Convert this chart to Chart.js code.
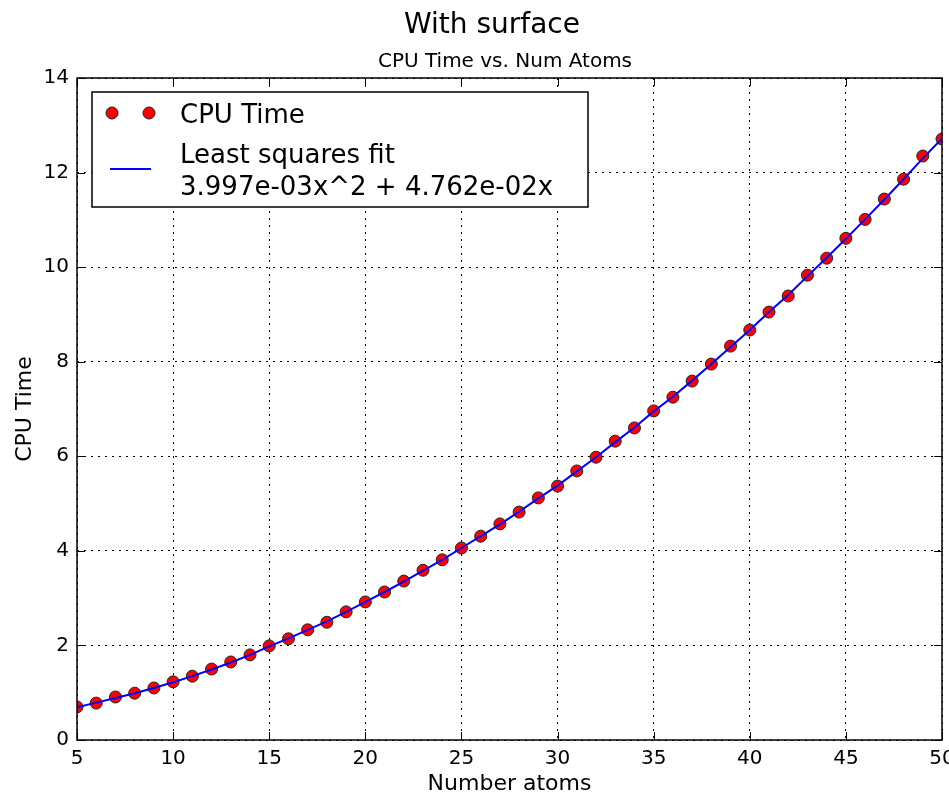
<!DOCTYPE html>
<html lang="en">
<head>
    <meta charset="UTF-8">
    <title>CPU Time vs. Num Atoms</title>
    <script src="https://cdn.jsdelivr.net/npm/chart.js"></script>
    <style>
        html, body { margin: 0; padding: 0; background: #fff; }
        #wrap { width: 949px; height: 797px; }
    </style>
</head>
<body>
    <div id="wrap"><canvas id="cpuChart" width="949" height="797"></canvas></div>

    <script>
        // data
        const atoms = [5, 6, 7, 8, 9, 10, 11, 12, 13, 14, 15, 16, 17, 18, 19, 20, 21, 22, 23, 24, 25, 26, 27,
                       28, 29, 30, 31, 32, 33, 34, 35, 36, 37, 38, 39, 40, 41, 42, 43, 44, 45, 46, 47, 48, 49, 50];
        const cpuTime = [0.70, 0.78, 0.91, 0.99, 1.10, 1.23, 1.35, 1.50, 1.65, 1.80, 1.99, 2.14, 2.33, 2.49,
                         2.71, 2.92, 3.13, 3.36, 3.59, 3.81, 4.06, 4.31, 4.57, 4.82, 5.12, 5.37, 5.69, 5.98,
                         6.32, 6.60, 6.96, 7.25, 7.59, 7.95, 8.33, 8.67, 9.05, 9.39, 9.83, 10.19, 10.61,
                         11.01, 11.44, 11.86, 12.35, 12.71];
        const fitTime = [0.69, 0.79, 0.89, 0.99, 1.10, 1.22, 1.35, 1.49, 1.64, 1.80, 1.98, 2.15, 2.33, 2.51,
                         2.71, 2.92, 3.13, 3.35, 3.58, 3.81, 4.06, 4.31, 4.56, 4.83, 5.11, 5.38, 5.68, 5.98,
                         6.30, 6.61, 6.95, 7.26, 7.60, 7.95, 8.31, 8.67, 9.05, 9.41, 9.81, 10.20, 10.60,
                         11.01, 11.43, 11.86, 12.30, 12.72];
        const xTicks = [5, 10, 15, 20, 25, 30, 35, 40, 45, 50];
        const yTicks = [0, 2, 4, 6, 8, 10, 12, 14];
        const legendLabels = ['CPU Time', 'Least squares fit', '3.997e-03x^2 + 4.762e-02x'];

        const FONT = "'DejaVu Sans', sans-serif";

        // titles, box, inward ticks and legend the way matplotlib draws them
        const mplDecor = {
            id: 'mplDecor',
            afterDraw(chart) {
                const ctx = chart.ctx;
                const area = chart.chartArea;
                const xs = chart.scales.x, ys = chart.scales.y;
                ctx.save();

                ctx.fillStyle = '#000';
                ctx.textAlign = 'center';
                ctx.textBaseline = 'alphabetic';
                ctx.font = '28px ' + FONT;
                ctx.fillText('With surface', 492, 33);
                ctx.font = '20px ' + FONT;
                ctx.fillText('CPU Time vs. Num Atoms', 505, 67);

                // inward tick marks
                ctx.strokeStyle = '#000';
                ctx.lineWidth = 1;
                const tl = 8;
                ctx.beginPath();
                xTicks.forEach(v => {
                    const px = Math.round(xs.getPixelForValue(v)) + 0.5;
                    ctx.moveTo(px, area.bottom); ctx.lineTo(px, area.bottom - tl);
                    ctx.moveTo(px, area.top); ctx.lineTo(px, area.top + tl);
                });
                yTicks.forEach(v => {
                    const py = Math.round(ys.getPixelForValue(v)) + 0.5;
                    ctx.moveTo(area.left, py); ctx.lineTo(area.left + tl, py);
                    ctx.moveTo(area.right, py); ctx.lineTo(area.right - tl, py);
                });
                ctx.stroke();

                // frame
                ctx.lineWidth = 1.5;
                ctx.strokeRect(area.left, area.top, area.right - area.left, area.bottom - area.top);

                // legend
                ctx.fillStyle = '#fff';
                ctx.fillRect(92, 92, 496, 115);
                ctx.lineWidth = 1.5;
                ctx.strokeStyle = '#000';
                ctx.strokeRect(92, 92, 496, 115);

                [112, 149].forEach(cx => {
                    ctx.beginPath();
                    ctx.arc(cx, 113, 6, 0, Math.PI * 2);
                    ctx.fillStyle = '#ff0000';
                    ctx.fill();
                    ctx.lineWidth = 1;
                    ctx.strokeStyle = '#222';
                    ctx.stroke();
                });
                ctx.beginPath();
                ctx.moveTo(110, 169);
                ctx.lineTo(151, 169);
                ctx.strokeStyle = '#0000ff';
                ctx.lineWidth = 2;
                ctx.stroke();

                ctx.fillStyle = '#000';
                ctx.textAlign = 'left';
                ctx.font = '26px ' + FONT;
                ctx.fillText(legendLabels[0], 180, 123);
                ctx.fillText(legendLabels[1], 180, 163);
                ctx.fillText(legendLabels[2], 180, 195);
                ctx.restore();
            }
        };

        const ctx = document.getElementById('cpuChart').getContext('2d');
        new Chart(ctx, {
            type: 'line',
            data: {
                datasets: [{
                    label: 'Least squares fit',
                    data: atoms.map((a, i) => ({x: a, y: fitTime[i]})),
                    borderColor: '#0000ff',
                    borderWidth: 2,
                    pointRadius: 0,
                    fill: false,
                    tension: 0,
                    clip: 0,
                    order: 0
                }, {
                    label: 'CPU Time',
                    data: atoms.map((a, i) => ({x: a, y: cpuTime[i]})),
                    showLine: false,
                    pointRadius: 6,
                    pointBackgroundColor: '#ff0000',
                    pointBorderColor: '#222',
                    pointBorderWidth: 1,
                    clip: 0,
                    order: 1
                }]
            },
            options: {
                responsive: false,
                animation: false,
                events: [],
                layout: { padding: { top: 78, right: 6, left: 0, bottom: 0 } },
                plugins: {
                    legend: { display: false },
                    tooltip: { enabled: false }
                },
                scales: {
                    x: {
                        type: 'linear',
                        min: 5,
                        max: 50,
                        afterBuildTicks: s => { s.ticks = xTicks.map(v => ({value: v})); },
                        afterFit: s => { s.height = 57; s.paddingLeft = 0; s.paddingRight = 0; },
                        grid: { color: '#000', lineWidth: 1, drawTicks: false },
                        border: { display: false, dash: [2, 5] },
                        ticks: { color: '#000', padding: 7, maxRotation: 0, font: { family: FONT, size: 20 } },
                        title: { display: true, text: 'Number atoms', color: '#000', padding: 0,
                                 font: { family: FONT, size: 22 } }
                    },
                    y: {
                        min: 0,
                        max: 14,
                        afterBuildTicks: s => { s.ticks = yTicks.map(v => ({value: v})); },
                        afterFit: s => { s.width = 77; s.paddingTop = 0; s.paddingBottom = 0; },
                        grid: { color: '#000', lineWidth: 1, drawTicks: false },
                        border: { display: false, dash: [2, 5] },
                        ticks: { color: '#000', padding: 8, font: { family: FONT, size: 20 } },
                        title: { display: true, text: 'CPU Time', color: '#000', padding: { top: 12 },
                                 font: { family: FONT, size: 22 } }
                    }
                }
            },
            plugins: [mplDecor]
        });
    </script>
</body>
</html>
